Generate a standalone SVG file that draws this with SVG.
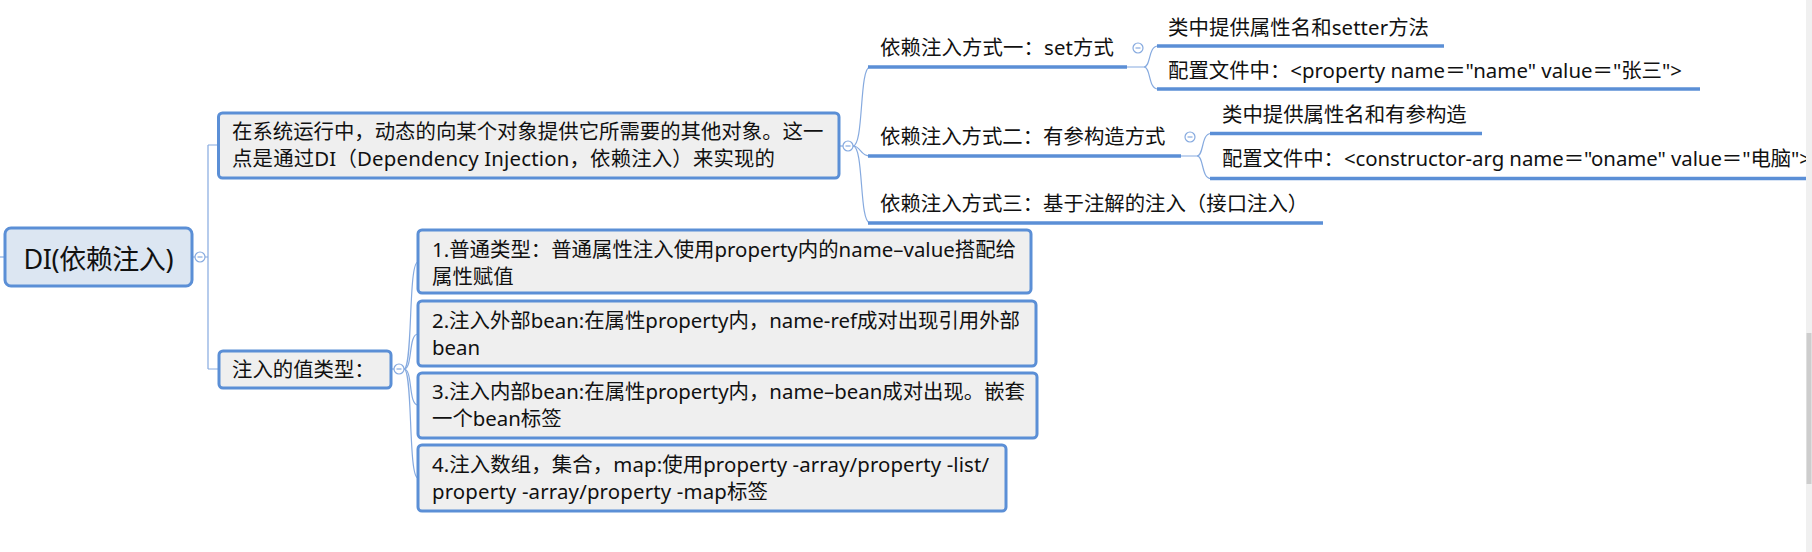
<svg xmlns="http://www.w3.org/2000/svg" width="1812" height="552" viewBox="0 0 1812 552">
<style>
text{font-family:"Noto Sans","Noto Sans CJK SC",sans-serif;font-size:20.4px;fill:#111}
.box{fill:#efefef;stroke:#5b8fd6;stroke-width:3}
.root{fill:#dce6f2;stroke:#5b8fd6;stroke-width:3}
.ul{stroke:#5b8fd6;stroke-width:3.5;fill:none}
.c{stroke:#86aadf;stroke-width:1.2;fill:none}
.tog circle{fill:#fff;stroke:#86aadf;stroke-width:1.2}
.tog line{stroke:#86aadf;stroke-width:1.2}
</style>
<rect width="1812" height="552" fill="#fff"/>

<g id="connectors">
  <path class="c" d="M0 257 H5"/>
  <path class="c" d="M192 257 H195 M205 257 H208 M208 145 V369 M208 145 H219 M208 369 H219"/>
  <path class="c" d="M839 146 H843"/>
  <path class="c" d="M853 146 C864 146 859 67 870 67"/>
  <path class="c" d="M853 146 C861 146 860 156 870 156"/>
  <path class="c" d="M853 146 C864 146 859 223 870 223"/>
  <path class="c" d="M1127 67 H1144 C1151 67 1148 46 1158 46"/>
  <path class="c" d="M1144 67 C1151 67 1148 89 1158 89"/>
  <path class="c" d="M1181 156 H1197 C1204 156 1201 133.5 1211 133.5"/>
  <path class="c" d="M1197 156 C1204 156 1201 178.5 1211 178.5"/>
  <path class="c" d="M391 369 H394"/>
  <path class="c" d="M404 369 C413 369 408 262 418 262"/>
  <path class="c" d="M404 369 C413 369 408 334 418 334"/>
  <path class="c" d="M404 369 C413 369 408 405 418 405"/>
  <path class="c" d="M404 369 C413 369 408 478 418 478"/>
</g>

<g id="root">
  <rect class="root" x="5" y="228" width="187" height="58" rx="6"/>
  <text x="98.5" y="269" text-anchor="middle" style="font-size:27px" textLength="150">DI(依赖注入)</text>
  <g class="tog"><circle cx="200" cy="257" r="5"/><line x1="197.5" y1="257" x2="202.5" y2="257"/></g>
</g>

<g id="node-desc">
  <rect class="box" x="218.5" y="113" width="620.5" height="65" rx="4"/>
  <text x="232" y="139">在系统运行中，动态的向某个对象提供它所需要的其他对象。这一</text>
  <text x="232" y="166" textLength="543">点是通过DI（Dependency Injection，依赖注入）来实现的</text>
  <g class="tog"><circle cx="848" cy="146" r="5"/><line x1="845.5" y1="146" x2="850.5" y2="146"/></g>
</g>

<g id="node-set">
  <line class="ul" x1="868" y1="67" x2="1127" y2="67"/>
  <text x="880" y="55" textLength="234">依赖注入方式一：set方式</text>
  <g class="tog"><circle cx="1138" cy="48" r="5"/><line x1="1135.5" y1="48" x2="1140.5" y2="48"/></g>
</g>

<g id="node-set-1">
  <line class="ul" x1="1157" y1="46" x2="1444" y2="46"/>
  <text x="1168" y="34.5" textLength="261">类中提供属性名和setter方法</text>
</g>

<g id="node-set-2">
  <line class="ul" x1="1157" y1="89" x2="1700" y2="89"/>
  <text x="1168" y="78" textLength="514">配置文件中：&lt;property name＝"name" value＝"张三"&gt;</text>
</g>

<g id="node-ctor">
  <line class="ul" x1="868" y1="156" x2="1181" y2="156"/>
  <text x="880" y="144">依赖注入方式二：有参构造方式</text>
  <g class="tog"><circle cx="1190" cy="137" r="5"/><line x1="1187.5" y1="137" x2="1192.5" y2="137"/></g>
</g>

<g id="node-ctor-1">
  <line class="ul" x1="1210" y1="133.5" x2="1482" y2="133.5"/>
  <text x="1222" y="122">类中提供属性名和有参构造</text>
</g>

<g id="node-ctor-2">
  <line class="ul" x1="1210" y1="178.5" x2="1806" y2="178.5"/>
  <text x="1222" y="166" textLength="589">配置文件中：&lt;constructor-arg name＝"oname" value＝"电脑"&gt;</text>
</g>

<g id="node-anno">
  <line class="ul" x1="868" y1="223" x2="1323" y2="223"/>
  <text x="880" y="211">依赖注入方式三：基于注解的注入（接口注入）</text>
</g>

<g id="node-types">
  <rect class="box" x="219" y="351" width="172" height="37" rx="4"/>
  <text x="232" y="377">注入的值类型：</text>
  <g class="tog"><circle cx="399" cy="369" r="5"/><line x1="396.5" y1="369" x2="401.5" y2="369"/></g>
</g>

<g id="node-t1">
  <rect class="box" x="418" y="230" width="613" height="63" rx="4"/>
  <text x="432" y="257" textLength="584">1.普通类型：普通属性注入使用property内的name–value搭配给</text>
  <text x="432" y="284">属性赋值</text>
</g>

<g id="node-t2">
  <rect class="box" x="418" y="301" width="618" height="65" rx="4"/>
  <text x="432" y="328" textLength="588">2.注入外部bean:在属性property内，name-ref成对出现引用外部</text>
  <text x="432" y="355">bean</text>
</g>

<g id="node-t3">
  <rect class="box" x="418" y="373" width="619" height="65" rx="4"/>
  <text x="432" y="399" textLength="593">3.注入内部bean:在属性property内，name–bean成对出现。嵌套</text>
  <text x="432" y="426">一个bean标签</text>
</g>

<g id="node-t4">
  <rect class="box" x="418" y="445" width="588" height="66" rx="4"/>
  <text x="432" y="472" textLength="557">4.注入数组，集合，map:使用property -array/property -list/</text>
  <text x="432" y="499" textLength="336">property -array/property -map标签</text>
</g>

<g id="scrollbar">
  <rect x="1806" y="0" width="6" height="552" fill="#f0f0f0"/>
  <rect x="1806.5" y="333" width="5" height="151" fill="#cdcdcd"/>
</g>
</svg>
